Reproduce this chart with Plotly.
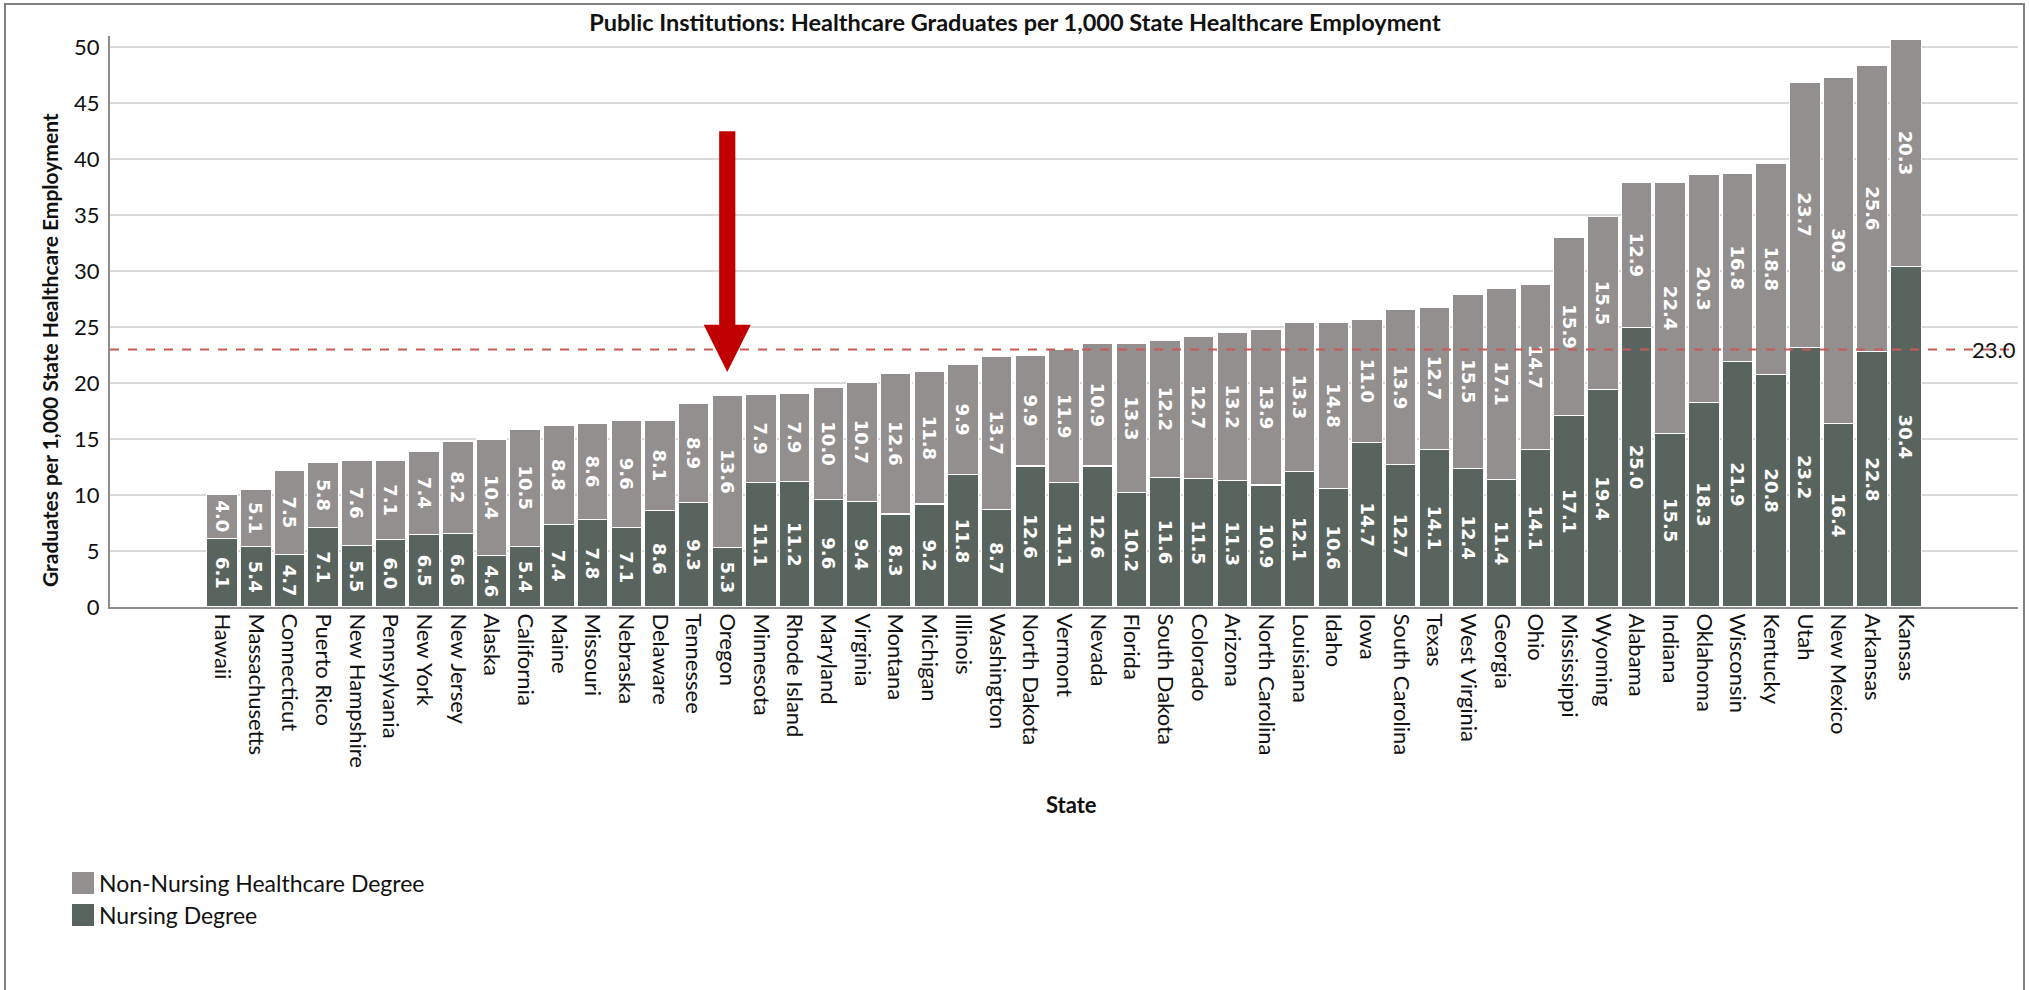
import plotly.graph_objects as go

# ---- data -------------------------------------------------------------
states = [
    "Hawaii", "Massachusetts", "Connecticut", "Puerto Rico", "New Hampshire",
    "Pennsylvania", "New York", "New Jersey", "Alaska", "California", "Maine",
    "Missouri", "Nebraska", "Delaware", "Tennessee", "Oregon", "Minnesota",
    "Rhode Island", "Maryland", "Virginia", "Montana", "Michigan", "Illinois",
    "Washington", "North Dakota", "Vermont", "Nevada", "Florida",
    "South Dakota", "Colorado", "Arizona", "North Carolina", "Louisiana",
    "Idaho", "Iowa", "South Carolina", "Texas", "West Virginia", "Georgia",
    "Ohio", "Mississippi", "Wyoming", "Alabama", "Indiana", "Oklahoma",
    "Wisconsin", "Kentucky", "Utah", "New Mexico", "Arkansas", "Kansas",
]
nursing = [
    6.1, 5.4, 4.7, 7.1, 5.5, 6.0, 6.5, 6.6, 4.6, 5.4, 7.4,
    7.8, 7.1, 8.6, 9.3, 5.3, 11.1, 11.2, 9.6, 9.4, 8.3, 9.2, 11.8,
    8.7, 12.6, 11.1, 12.6, 10.2, 11.6, 11.5, 11.3, 10.9, 12.1,
    10.6, 14.7, 12.7, 14.1, 12.4, 11.4, 14.1, 17.1, 19.4, 25.0, 15.5, 18.3,
    21.9, 20.8, 23.2, 16.4, 22.8, 30.4,
]
non_nursing = [
    4.0, 5.1, 7.5, 5.8, 7.6, 7.1, 7.4, 8.2, 10.4, 10.5, 8.8,
    8.6, 9.6, 8.1, 8.9, 13.6, 7.9, 7.9, 10.0, 10.7, 12.6, 11.8, 9.9,
    13.7, 9.9, 11.9, 10.9, 13.3, 12.2, 12.7, 13.2, 13.9, 13.3,
    14.8, 11.0, 13.9, 12.7, 15.5, 17.1, 14.7, 15.9, 15.5, 12.9, 22.4, 20.3,
    16.8, 18.8, 23.7, 30.9, 25.6, 20.3,
]
reference_value = 23.0
highlight_state = "Oregon"
y_ticks = [0, 5, 10, 15, 20, 25, 30, 35, 40, 45, 50]

# ---- styling ----------------------------------------------------------
W, H = 2030, 990
M_L, M_R, M_T, M_B = 110, 12, 36, 383
NURSING_COLOR = "#5a645e"
NON_NURSING_COLOR = "#938f8e"
TEXT_FONT = "Lato, 'Open Sans', sans-serif"
LABEL_FONT = "'DejaVu Sans', Verdana, sans-serif"

plot_w = W - M_L - M_R
plot_h = H - M_T - M_B


def px_x(px):
    """Horizontal pixel position -> paper fraction."""
    return (px - M_L) / plot_w


def px_y(py):
    """Vertical pixel position (from top) -> paper fraction."""
    return (H - M_B - py) / plot_h


fig = go.Figure()

bar_common = dict(
    x=states,
    texttemplate="%{y:.1f}",
    textposition="inside",
    insidetextanchor="middle",
    textangle=90,
    constraintext="none",
    textfont=dict(family=LABEL_FONT, size=18, color="white", weight="bold"),
    hoverinfo="x+y+name",
)

fig.add_trace(go.Bar(
    name="Nursing Degree", y=nursing,
    marker=dict(color=NURSING_COLOR, line=dict(color="white", width=1.2)),
    showlegend=False, **bar_common,
))
fig.add_trace(go.Bar(
    name="Non-Nursing Healthcare Degree", y=non_nursing,
    marker=dict(color=NON_NURSING_COLOR, line=dict(color="white", width=1.2)),
    showlegend=False, **bar_common,
))

shapes = []

# reference line across the plot
shapes.append(dict(
    type="line", xref="paper", yref="y", x0=0, x1=1,
    y0=reference_value, y1=reference_value,
    line=dict(color="#c85a58", width=2, dash="9px,9px"), layer="above",
))

# red arrow pointing at the highlighted state
hx = states.index(highlight_state)
shaft_half, head_half = 0.24, 0.70
y_top, y_base, y_tip = 42.5, 25.2, 21.0
arrow_path = (
    f"M {hx - shaft_half} {y_top} L {hx + shaft_half} {y_top} "
    f"L {hx + shaft_half} {y_base} L {hx + head_half} {y_base} "
    f"L {hx} {y_tip} L {hx - head_half} {y_base} "
    f"L {hx - shaft_half} {y_base} Z"
)
shapes.append(dict(
    type="path", xref="x", yref="y", path=arrow_path,
    fillcolor="#c00000", line=dict(width=0), layer="above",
))

# outer frame
shapes.append(dict(
    type="rect", xref="paper", yref="paper",
    x0=px_x(5), x1=px_x(2024), y0=px_y(1010), y1=px_y(4),
    line=dict(color="#808080", width=2), fillcolor="rgba(0,0,0,0)",
    layer="below",
))

# legend swatches
legend_items = [
    ("Non-Nursing Healthcare Degree", NON_NURSING_COLOR, 883),
    ("Nursing Degree", NURSING_COLOR, 915),
]
annotations = []
for label, color, cy in legend_items:
    shapes.append(dict(
        type="rect", xref="paper", yref="paper",
        x0=px_x(72), x1=px_x(94), y0=px_y(cy + 11), y1=px_y(cy - 11),
        fillcolor=color, line=dict(width=0),
    ))
    annotations.append(dict(
        text=label, xref="paper", yref="paper", x=px_x(97), y=px_y(cy),
        xanchor="left", yanchor="middle", showarrow=False,
        font=dict(family=TEXT_FONT, size=23, color="#111111"),
    ))

# axis titles
annotations.append(dict(
    text="<b>Graduates per 1,000 State Healthcare Employment</b>",
    xref="paper", yref="paper", x=px_x(49), y=px_y(350),
    textangle=-90, showarrow=False, xanchor="center", yanchor="middle",
    font=dict(family=TEXT_FONT, size=21, color="#111111"),
))
annotations.append(dict(
    text="<b>State</b>", xref="paper", yref="paper",
    x=px_x(1071), y=px_y(804), showarrow=False,
    xanchor="center", yanchor="middle",
    font=dict(family=TEXT_FONT, size=22, color="#111111"),
))
# reference value label
annotations.append(dict(
    text=f"{reference_value:.1f}", xref="paper", yref="y",
    x=1.0, y=reference_value, xanchor="right", yanchor="middle",
    showarrow=False, font=dict(family=TEXT_FONT, size=22, color="#111111"),
))

fig.update_layout(
    width=W, height=H,
    margin=dict(l=M_L, r=M_R, t=M_T, b=M_B),
    paper_bgcolor="white", plot_bgcolor="white",
    barmode="stack", bargap=0.09,
    title=dict(
        text="<b>Public Institutions: Healthcare Graduates per 1,000 State Healthcare Employment</b>",
        x=0.5, xref="container", xanchor="center",
        y=1 - 23 / H, yref="container", yanchor="middle",
        font=dict(family=TEXT_FONT, size=23.5, color="#111111"),
    ),
    xaxis=dict(
        type="category", range=[-3.33, len(states) + 2.33],
        tickangle=90, showgrid=False, ticks="",
        tickfont=dict(family=TEXT_FONT, size=22, color="#111111"),
        showline=True, linecolor="#8c8c8c", linewidth=2,
        fixedrange=True,
    ),
    yaxis=dict(
        range=[0, 51.0], tickvals=y_ticks, ticks="",
        tickfont=dict(family=TEXT_FONT, size=22, color="#111111"),
        showgrid=True, gridcolor="#d9d9d9", gridwidth=1.5,
        showline=True, linecolor="#8c8c8c", linewidth=2,
        zeroline=False, ticklabelstandoff=4,
    ),
    shapes=shapes, annotations=annotations,
    showlegend=False,
)

fig.write_html("out.html")
